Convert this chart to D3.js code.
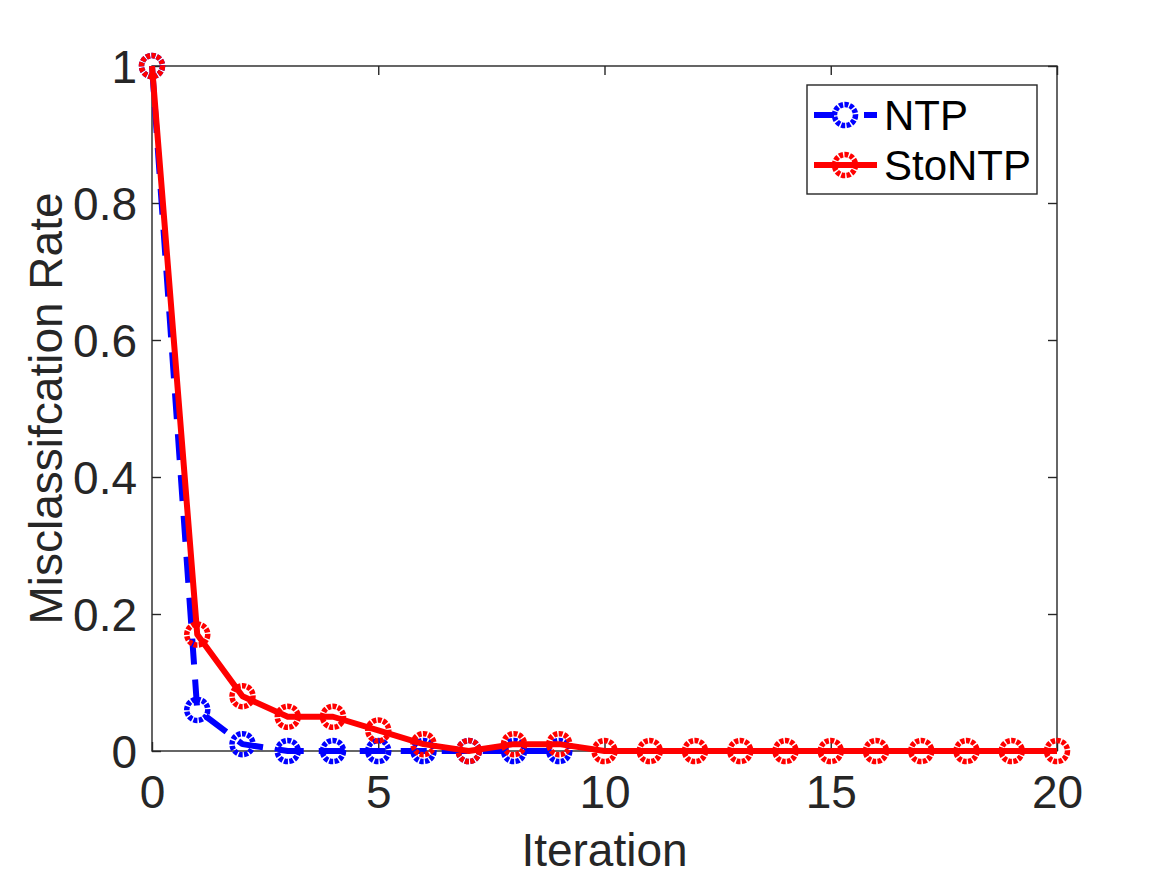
<!DOCTYPE html>
<html><head><meta charset="utf-8">
<script src="https://cdn.jsdelivr.net/npm/d3@7"></script>
<style>body{margin:0;background:#fff;} svg{display:block;}</style>
</head><body>
<svg id="c" width="1167" height="875"></svg>
<script>
const iterNTP = [0,1,2,3,4,5,6,7,8,9];
const valNTP  = [1,0.06,0.01,0,0,0,0,0,0,0];
const iterSto = [0,1,2,3,4,5,6,7,8,9,10,11,12,13,14,15,16,17,18,19,20];
const valSto  = [1,0.17,0.08,0.05,0.05,0.03,0.01,0,0.01,0.01,0,0,0,0,0,0,0,0,0,0,0];
const xTicks = [0,5,10,15,20];
const yTicks = [0,0.2,0.4,0.6,0.8,1];
const seriesNames = ["NTP","StoNTP"];

const svg = d3.select("#c");
const L=152,R=1057,T=66,B=751;
const x = d3.scaleLinear().domain([0,20]).range([L,R]);
const y = d3.scaleLinear().domain([0,1]).range([B,T]);
const font = "'Liberation Sans', Arial, Helvetica, sans-serif";
const axCol = "#262626";
const fs = "46px";

svg.append("rect").attr("x",L).attr("y",T).attr("width",R-L).attr("height",B-T)
  .attr("fill","none").attr("stroke",axCol).attr("stroke-width",1.4);

const tl = 9;
const fmt = d => String(d);
const xa = svg.append("g").attr("transform",`translate(0,${B})`)
  .call(d3.axisBottom(x).tickValues(xTicks).tickSize(-tl).tickFormat(fmt).tickPadding(24));
const xt = svg.append("g").attr("transform",`translate(0,${T})`)
  .call(d3.axisTop(x).tickValues(xTicks).tickSize(-tl).tickFormat(""));
const ya = svg.append("g").attr("transform",`translate(${L},0)`)
  .call(d3.axisLeft(y).tickValues(yTicks).tickSize(-tl).tickFormat(fmt).tickPadding(15));
const yr = svg.append("g").attr("transform",`translate(${R},0)`)
  .call(d3.axisRight(y).tickValues(yTicks).tickSize(-tl).tickFormat(""));
[xa,xt,ya,yr].forEach(g=>{
  g.select(".domain").remove();
  g.selectAll(".tick line").attr("stroke",axCol).attr("stroke-width",1.4);
  g.selectAll(".tick text").attr("fill",axCol).style("font-family",font).style("font-size",fs);
});
ya.selectAll(".tick text").attr("dy","0.36em");

svg.append("text").attr("x",(L+R)/2).attr("y",866).attr("text-anchor","middle")
  .attr("fill",axCol).style("font-family",font).style("font-size",fs).text("Iteration");
svg.append("text").attr("transform",`translate(62,${(T+B)/2}) rotate(-90)`).attr("text-anchor","middle")
  .attr("fill",axCol).style("font-family",font).style("font-size",fs).text("Misclassifcation Rate");

const line = d3.line().x(d=>x(d[0])).y(d=>y(d[1]));
const series = [
  {name:seriesNames[0], pts:iterNTP.map((v,i)=>[v,valNTP[i]]), color:"#0000ff", dash:"26,15", ldash:"20,30,13"},
  {name:seriesNames[1], pts:iterSto.map((v,i)=>[v,valSto[i]]), color:"#ff0000", dash:null, ldash:null}
];
const mr = 10.5;
const mdash = "4,1.4";
series.forEach(s=>{
  svg.append("path").datum(s.pts).attr("d",line).attr("fill","none")
    .attr("stroke",s.color).attr("stroke-width",6)
    .attr("stroke-dasharray",s.dash).attr("stroke-linejoin","round");
  svg.append("g").selectAll("circle").data(s.pts).join("circle")
    .attr("cx",d=>x(d[0])).attr("cy",d=>y(d[1])).attr("r",mr)
    .attr("fill","none").attr("stroke",s.color).attr("stroke-width",5.5)
    .attr("stroke-dasharray",mdash);
});

const lg = svg.append("g");
lg.append("rect").attr("x",807).attr("y",85).attr("width",230).attr("height",109)
  .attr("fill","#fff").attr("stroke",axCol).attr("stroke-width",1.4);
series.forEach((s,i)=>{
  const yy = 115 + i*50;
  lg.append("line").attr("x1",814).attr("x2",877).attr("y1",yy).attr("y2",yy)
    .attr("stroke",s.color).attr("stroke-width",6)
    .attr("stroke-dasharray", s.ldash);
  lg.append("circle").attr("cx",845).attr("cy",yy).attr("r",mr)
    .attr("fill","none").attr("stroke",s.color).attr("stroke-width",5.5).attr("stroke-dasharray",mdash);
  lg.append("text").attr("x",884).attr("y",yy).attr("dy","0.36em")
    .attr("fill","#000").style("font-family",font).style("font-size","42px").text(s.name);
});
</script>
</body></html>
